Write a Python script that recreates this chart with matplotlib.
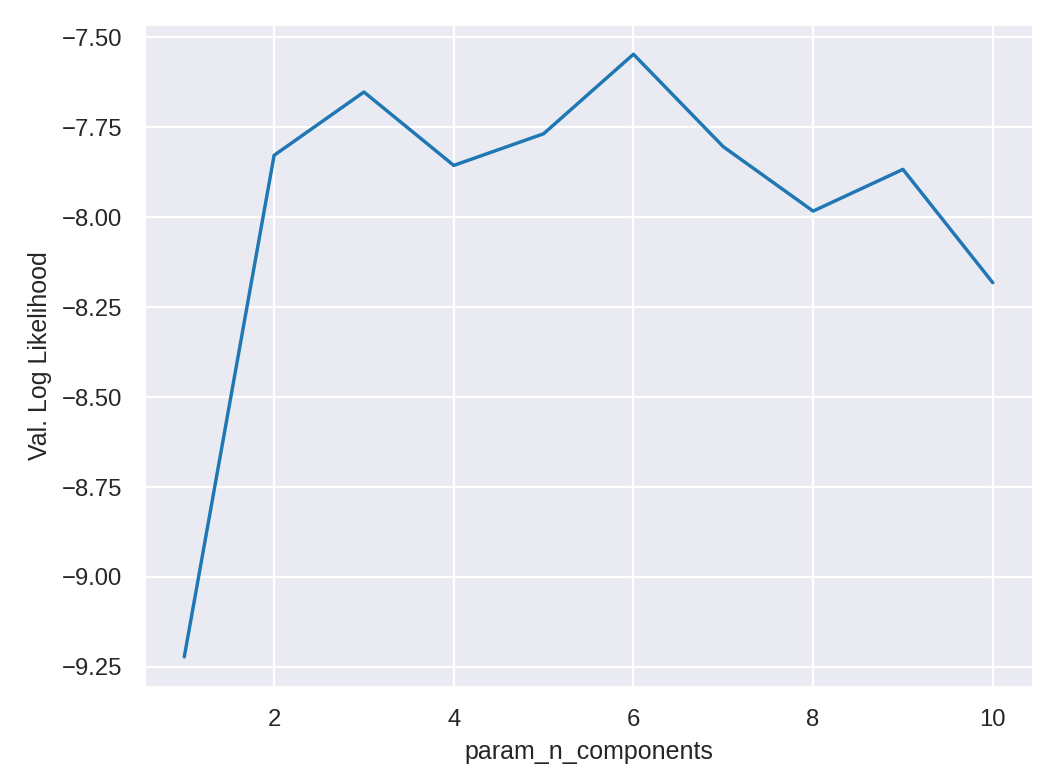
import matplotlib
matplotlib.use("Agg")
import matplotlib.pyplot as plt
import seaborn as sns

sns.set_theme(style="darkgrid")
plt.rcParams['font.family'] = ['Liberation Sans', 'DejaVu Sans']
plt.rcParams['axes.unicode_minus'] = True

n_components = [1, 2, 3, 4, 5, 6, 7, 8, 9, 10]
val_log_likelihood = [-9.222, -7.828, -7.652, -7.856, -7.768, -7.547, -7.804, -7.983, -7.867, -8.182]

fig, ax = plt.subplots(figsize=(1050/164, 778/164), dpi=164)
ax.plot(n_components, val_log_likelihood, color="#1f77b4")
ax.set_xlabel("param_n_components", fontsize=11)
ax.set_ylabel("Val. Log Likelihood", fontsize=11)
ax.tick_params(labelsize=10.5)
ax.set_xticks([2, 4, 6, 8, 10])
ax.set_yticks([-7.5, -7.75, -8.0, -8.25, -8.5, -8.75, -9.0, -9.25])
ax.set_yticklabels(["\u22127.50", "\u22127.75", "\u22128.00", "\u22128.25", "\u22128.50", "\u22128.75", "\u22129.00", "\u22129.25"])
fig.subplots_adjust(left=0.137, right=0.984, top=0.969, bottom=0.117)
fig.savefig("out.png", dpi=164)
